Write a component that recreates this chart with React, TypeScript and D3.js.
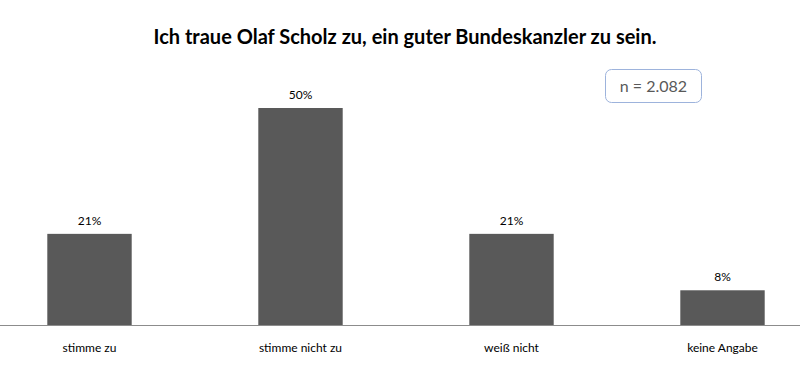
import React from "react";
import * as d3 from "d3";

const categories = ["stimme zu", "stimme nicht zu", "weiß nicht", "keine Angabe"];
const values = [21, 50, 21, 8];
const valueLabels = ["21%", "50%", "21%", "8%"];
const title = "Ich traue Olaf Scholz zu, ein guter Bundeskanzler zu sein.";
const sampleNote = "n = 2.082";

const W = 800;
const H = 373;
const font = "Lato, 'Noto Sans', sans-serif";

export default function App() {
  const x = d3.scaleBand<string>()
    .domain(categories)
    .range([-16, 828])
    .paddingInner(0.6)
    .paddingOuter(0.3);

  const y = d3.scaleLinear().domain([0, 50]).range([325, 108]);

  return (
    <svg width={W} height={H} style={{ position: "absolute", left: 0, top: 0, background: "#fff" }}>
      <text x={405} y={44} textAnchor="middle" fontFamily={font} fontWeight="bold" fontSize={20} fill="#000">
        {title}
      </text>

      <rect x={605.5} y={69.5} width={96} height={33} rx={6} fill="#fff" stroke="#9db3dc" strokeWidth={1} />
      <text x={653.5} y={92} textAnchor="middle" fontFamily={font} fontSize={16} fill="#595959">
        {sampleNote}
      </text>

      {categories.map((c, i) => (
        <g key={c}>
          <rect
            x={x(c)}
            y={y(values[i])}
            width={x.bandwidth()}
            height={y(0) - y(values[i])}
            fill="#595959"
          />
          <text
            x={(x(c) as number) + x.bandwidth() / 2}
            y={y(values[i]) - 9}
            textAnchor="middle"
            fontFamily={font}
            fontSize={12}
            fill="#000"
          >
            {valueLabels[i]}
          </text>
          <text
            x={(x(c) as number) + x.bandwidth() / 2}
            y={352}
            textAnchor="middle"
            fontFamily={font}
            fontSize={12}
            fill="#000"
          >
            {c}
          </text>
        </g>
      ))}

      <line x1={0} x2={W} y1={y(0) + 0.5} y2={y(0) + 0.5} stroke="#8c8c8c" strokeWidth={1} />
    </svg>
  );
}
